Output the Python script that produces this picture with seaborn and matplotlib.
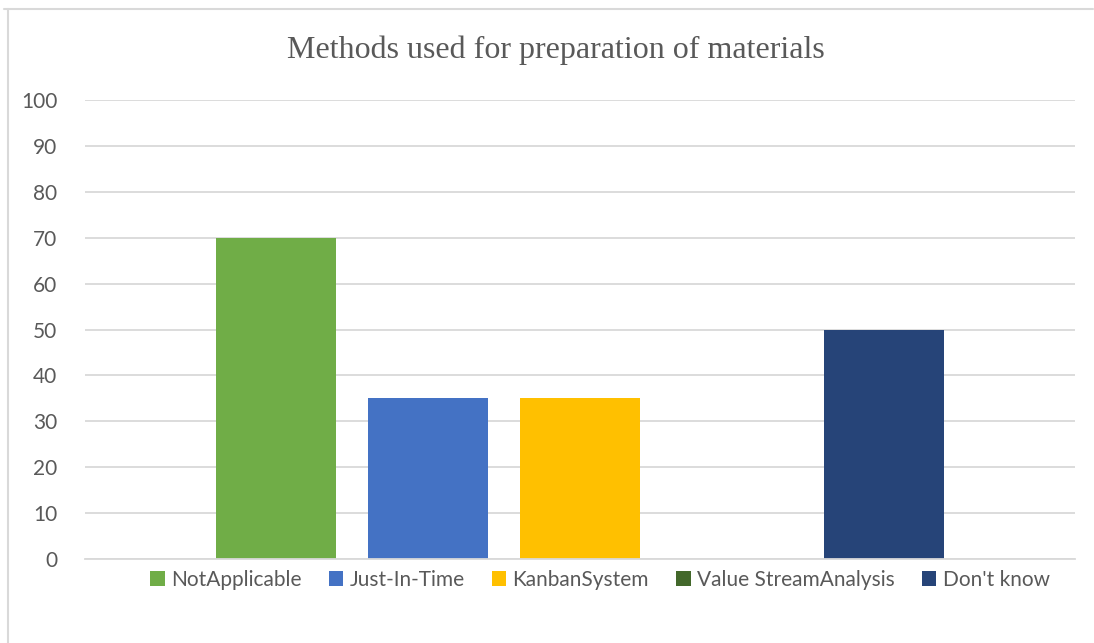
import matplotlib
matplotlib.use("Agg")
import matplotlib.pyplot as plt
import matplotlib.lines as mlines
import seaborn as sns
import pandas as pd

# data
METHODS = ["NotApplicable", "Just-In-Time", "KanbanSystem", "Value StreamAnalysis", "Don't know"]
VALUES = [70, 35, 35, 0, 50]
COLORS = ["#70AD47", "#4472C4", "#FFC000", "#43682B", "#264478"]
Y_TICKS = [0, 10, 20, 30, 40, 50, 60, 70, 80, 90, 100]
TITLE = "Methods used for preparation of materials"

df = pd.DataFrame({"group": [""] * len(METHODS), "method": METHODS, "value": VALUES})

sns.set_style("white")
plt.rcParams["font.family"] = ["Lato", "DejaVu Sans"]

fig = plt.figure(figsize=(10.94, 6.43), dpi=100)
ax = fig.add_axes([85 / 1094, 1 - 559 / 643, 990 / 1094, 459 / 643])

sns.barplot(data=df, x="group", y="value", hue="method", hue_order=METHODS,
            palette=COLORS, width=0.768, gap=0.21, saturation=1,
            edgecolor="none", ax=ax, legend=True)

ax.set_xlim(-0.5, 0.5)
ax.set_ylim(0, 100)
ax.set_yticks(Y_TICKS)
ax.set_xticks([])
ax.set_xlabel("")
ax.set_ylabel("")
ax.yaxis.grid(True, color="#D9D9D9", linewidth=1.3)
ax.set_axisbelow(True)
for s in ["top", "right", "left"]:
    ax.spines[s].set_visible(False)
ax.spines["bottom"].set_color("#D9D9D9")
ax.spines["bottom"].set_linewidth(1.3)
ax.tick_params(axis="y", length=0, pad=20, labelsize=15, labelcolor="#595959")

ax.get_legend().remove()
fig.legend(*ax.get_legend_handles_labels(), loc="center", bbox_to_anchor=(600 / 1094, 1 - 580 / 643),
           ncol=5, frameon=False, fontsize=15, labelcolor="#595959",
           handlelength=0.7, handleheight=0.7, handletextpad=0.3, columnspacing=1.3)

fig.text(556 / 1094, 1 - 50 / 643, TITLE, ha="center", va="center",
         fontsize=23, color="#595959", family="Liberation Serif")

# chart frame (top and left edges visible)
fig.add_artist(mlines.Line2D([4 / 1094, 1093 / 1094], [1 - 9 / 643, 1 - 9 / 643],
                             transform=fig.transFigure, color="#D9D9D9", linewidth=1.5))
fig.add_artist(mlines.Line2D([8 / 1094, 8 / 1094], [1 - 9 / 643, 0],
                             transform=fig.transFigure, color="#D9D9D9", linewidth=1.5))

fig.savefig("out.png", dpi=100, facecolor="white")
